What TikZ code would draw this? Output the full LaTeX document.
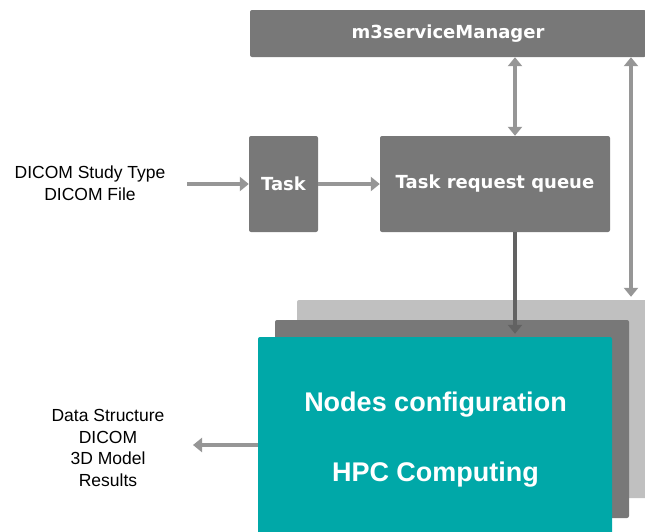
\documentclass[tikz,border=0pt]{standalone}
\usepackage{fontspec}
\setmainfont{Liberation Sans}
\newfontfamily\boxfont{DejaVu Sans}
\usepackage{tikz}
\usetikzlibrary{positioning,arrows.meta}
\definecolor{boxgray}{HTML}{787878}
\definecolor{backgray}{HTML}{C0C0C0}
\definecolor{arrowgray}{HTML}{969696}
\definecolor{arrowdark}{HTML}{626262}
\definecolor{hpcteal}{HTML}{00A8A8}
\tikzset{
  graybox/.style={fill=boxgray, rounded corners=2pt, inner sep=0pt, text=white,
    font=\boxfont\bfseries\fontsize{18}{22}\selectfont},
  stackbox/.style={rounded corners=2pt, inner sep=0pt},
  flow/.style={draw=arrowgray, line width=4.5pt, -{Triangle[width=14pt,length=9pt]}},
  flowboth/.style={flow, {Triangle[width=14pt,length=9pt]}-{Triangle[width=14pt,length=9pt]}},
  plain/.style={align=center, font=\fontsize{17.5}{21.5}\selectfont},
  hpctext/.style={text=white, font=\bfseries\fontsize{27}{32}\selectfont}
}
\begin{document}
\begin{tikzpicture}[x=1pt,y=-1pt]
\useasboundingbox (0,0) rectangle (645,531);
\clip (0,0) rectangle (645,531);
% boxes
\node[graybox, minimum width=396pt, minimum height=47pt] (mgr) at (448,33.5) {m3serviceManager};
\node[graybox, minimum width=69pt, minimum height=96pt] (task) at (283.5,184) {Task};
\node[graybox, minimum width=230pt, minimum height=96pt] (queue) at (495,184) {Task request queue};
% stack of compute nodes
\node[stackbox, fill=backgray, minimum width=363pt, minimum height=198pt] (back) at (478.5,399) {};
\node[stackbox, fill=boxgray, minimum width=354pt, minimum height=198pt] (middle) at (452,419) {};
\node[stackbox, fill=hpcteal, minimum width=354pt, minimum height=208pt] (front) at (435,441) {};
\node[hpctext] (config) at (435.5,405) {Nodes configuration};
\node[hpctext] (hpc) at (435.5,475) {HPC Computing};
% texts
\node[plain] (request) at (90,183) {DICOM Study Type\\DICOM File};
\node[plain] (results) at (108,448) {Data Structure\\DICOM\\3D Model\\Results};
\coordinate (intail) at (187,184);
\coordinate (outtip) at (193,445);
\coordinate (rside) at (631,0);
% arrows
\draw[flow] (intail) -- (task.west);
\draw[flow] (task.east) -- (queue.west);
\draw[flowboth] ([xshift=20pt]queue.north) -- ([xshift=20pt]queue.north |- mgr.south);
\draw[flowboth] (rside |- mgr.south) -- ([yshift=3pt]rside |- back.north);
\draw[flow, draw=arrowdark] ([xshift=20pt]queue.south) -- ([xshift=20pt,yshift=3pt]queue.south |- front.north);
\draw[flow] (front.west |- outtip) -- (outtip);
\end{tikzpicture}
\end{document}
